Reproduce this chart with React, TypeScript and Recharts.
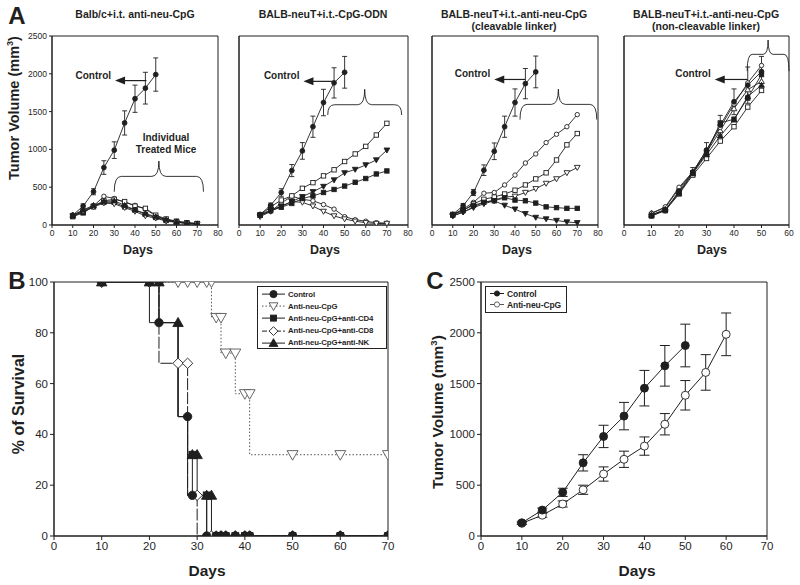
import React from "react";
import { ComposedChart, Line, XAxis, YAxis, ErrorBar, ReferenceArea } from "recharts";

const FONT = "'Liberation Sans', Arial, Helvetica, sans-serif";
const INK = "#1f1f1f";

// ---------- tick labels ----------
const dayTicks80 = [0, 10, 20, 30, 40, 50, 60, 70, 80];
const dayTicks60 = [0, 10, 20, 30, 40, 50, 60];
const dayTicks70 = [0, 10, 20, 30, 40, 50, 60, 70];
const volumeTicks = [0, 500, 1000, 1500, 2000, 2500];
const survivalTicks = [0, 20, 40, 60, 80, 100];

// ---------- panel A ----------
const daysA = [10, 15, 20, 25, 30, 35, 40, 45, 50, 55, 60, 65, 70];
const daysA4 = [10, 15, 20, 25, 30, 35, 40, 45, 50];

// A1: Balb/c + i.t. anti-neu-CpG
const a1Control = [130, 250, 440, 760, 990, 1350, 1670, 1810, 1990];
const a1ControlErr = [20, 30, 40, 90, 110, 160, 180, 210, 220];
const a1OpenCircle = [130, 190, 250, 380, 350, 300, 260, 210, 120, 70, 50, 30, 20];
const a1OpenSquare = [120, 170, 240, 320, 340, 310, 250, 220, 130, 80, 50, 30, 20];
const a1FilledSquare = [110, 160, 250, 300, 300, 240, 200, 140, 100, 60, 40, 20, 15];
const a1OpenTriDown = [120, 180, 240, 290, 280, 230, 180, 120, 90, 50, 35, 20, 10];
const a1FilledTri = [130, 200, 260, 310, 320, 260, 200, 150, 110, 70, 40, 25, 15];

// A2: BALB-neuT + i.t.-CpG-ODN
const a2Control = [140, 260, 430, 720, 980, 1300, 1620, 1880, 2020];
const a2ControlErr = [20, 30, 50, 80, 110, 140, 175, 200, 210];
const a2OpenSquare = [130, 240, 330, 385, 485, 560, 650, 730, 840, 940, 1040, 1190, 1345];
const a2FilledTriDown = [130, 205, 245, 310, 375, 440, 510, 595, 690, 735, 795, 860, 990];
const a2FilledSquare = [130, 190, 235, 285, 350, 385, 430, 470, 515, 565, 615, 675, 715];
const a2OpenCircle = [130, 180, 290, 380, 340, 320, 270, 210, 110, 70, 50, 30, 25];
const a2OpenTriDown = [110, 180, 250, 310, 300, 250, 180, 120, 80, 50, 30, 20, 20];

// A3: cleavable linker
const a3Control = [140, 255, 430, 725, 975, 1300, 1620, 1870, 2025];
const a3ControlErr = [20, 30, 40, 70, 110, 140, 180, 200, 210];
const a3OpenCircle = [140, 210, 300, 420, 430, 530, 660, 820, 940, 1090, 1200, 1300, 1460];
const a3OpenSquare = [140, 190, 280, 340, 370, 410, 460, 530, 610, 690, 860, 1060, 1210];
const a3OpenTriDown = [120, 170, 240, 300, 330, 370, 380, 430, 480, 550, 610, 690, 760];
const a3FilledSquare = [130, 200, 260, 300, 320, 360, 330, 320, 290, 240, 230, 220, 220];
const a3FilledTriDown = [120, 170, 230, 280, 320, 260, 210, 150, 100, 80, 60, 40, 30];

// A4: non-cleavable linker
const a4Control = [120, 190, 450, 700, 990, 1320, 1630, 1850, 2030];
const a4ControlErr = [20, 25, 35, 60, 100, 130, 170, 240, 200];
const a4OpenCircle = [150, 240, 500, 700, 990, 1290, 1600, 1880, 2110];
const a4FilledSquare = [120, 200, 430, 690, 950, 1350, 1400, 1680, 1990];
const a4OpenSquare = [140, 190, 410, 660, 880, 1110, 1300, 1560, 1780];
const a4OpenTri = [160, 230, 480, 700, 960, 1250, 1540, 1790, 1900];
const a4FilledTri = [130, 210, 420, 680, 930, 1180, 1390, 1700, 1850];

// ---------- panel B (Kaplan-Meier steps: [day, % survival, marker]) ----------
const survControl = [
  [10, 100, 1], [20, 100, 1], [20, 84, 0], [22, 84, 1], [26, 84, 0], [26, 47, 0], [28, 47, 1],
  [28, 16, 0], [29, 16, 1], [32, 16, 0], [32, 0, 1], [34, 0, 1], [35, 0, 1], [36, 0, 1],
  [38, 0, 1], [40, 0, 1], [41, 0, 1], [50, 0, 1], [60, 0, 1], [70, 0, 1],
];
const survAntiNeu = [
  [10, 100, 1], [26, 100, 1], [28, 100, 1], [30, 100, 1], [32, 100, 1], [33, 100, 1],
  [33, 86, 0], [34, 86, 1], [35, 86, 1], [35, 72, 0], [36, 72, 1], [38, 72, 1], [38, 56, 0],
  [40, 56, 1], [41, 56, 1], [41, 32, 0], [50, 32, 1], [60, 32, 1], [70, 32, 1],
];
const survCD4 = [
  [10, 100, 1], [20, 100, 1], [22, 100, 1], [22, 84, 0], [26, 84, 0], [26, 47, 0], [28, 47, 0],
  [28, 32, 0], [29, 32, 1], [29, 16, 0], [32, 16, 1], [32, 0, 0], [34, 0, 1], [35, 0, 1],
  [36, 0, 1], [38, 0, 1], [40, 0, 1], [41, 0, 1], [50, 0, 1], [60, 0, 1], [70, 0, 1],
];
const survCD8 = [
  [10, 100, 1], [20, 100, 1], [22, 100, 1], [22, 68, 0], [26, 68, 1], [28, 68, 1], [28, 16, 0],
  [30, 16, 1], [30, 0, 0], [33, 0, 1], [35, 0, 1], [36, 0, 1], [38, 0, 1], [40, 0, 1],
  [41, 0, 1], [50, 0, 1], [60, 0, 1], [70, 0, 1],
];
const survNK = [
  [10, 100, 1], [20, 100, 1], [22, 100, 1], [22, 84, 0], [26, 84, 1], [26, 47, 0], [28, 47, 0],
  [28, 32, 0], [29, 32, 1], [30, 32, 1], [30, 16, 0], [32, 16, 1], [33, 16, 1], [33, 0, 0],
  [34, 0, 1], [35, 0, 1], [36, 0, 1], [38, 0, 1], [40, 0, 1], [41, 0, 1], [50, 0, 1],
  [60, 0, 1], [70, 0, 1],
];

// ---------- panel C ----------
const daysC = [10, 15, 20, 25, 30, 35, 40, 45, 50, 55, 60];
const cControl = [130, 255, 430, 720, 980, 1180, 1455, 1675, 1875];
const cControlErr = [15, 20, 40, 80, 110, 135, 175, 200, 210];
const cAntiNeu = [125, 205, 315, 455, 610, 755, 885, 1100, 1385, 1610, 1985];
const cAntiNeuErr = [10, 20, 30, 45, 70, 80, 90, 105, 145, 175, 210];

type Shape = "circle" | "square" | "triUp" | "triDown" | "diamond";

function buildRows(days: number[], cols: Record<string, number[]>) {
  return days.map((day, i) => {
    const row: Record<string, number | null> = { day };
    for (const k of Object.keys(cols)) row[k] = cols[k][i] ?? null;
    return row;
  });
}

function toPoints(arr: number[][]) {
  return arr.map(([day, pct, m]) => ({ day, pct, m }));
}

function Marker({ cx, cy, shape, filled, r, stroke = INK }: { cx: number; cy: number; shape: Shape; filled: boolean; r: number; stroke?: string }) {
  const fill = filled ? stroke : "#fff";
  const sw = 0.9;
  if (shape === "circle") return <circle cx={cx} cy={cy} r={r} fill={fill} stroke={stroke} strokeWidth={sw} />;
  if (shape === "square")
    return <rect x={cx - r} y={cy - r} width={2 * r} height={2 * r} fill={fill} stroke={stroke} strokeWidth={sw} />;
  const t = r * 1.3;
  let pts = "";
  if (shape === "triUp") pts = `${cx},${cy - t} ${cx + t},${cy + t * 0.75} ${cx - t},${cy + t * 0.75}`;
  if (shape === "triDown") pts = `${cx},${cy + t} ${cx + t},${cy - t * 0.75} ${cx - t},${cy - t * 0.75}`;
  if (shape === "diamond") pts = `${cx},${cy - t} ${cx + t},${cy} ${cx},${cy + t} ${cx - t},${cy}`;
  return <polygon points={pts} fill={fill} stroke={stroke} strokeWidth={sw} />;
}

function dotRenderer(shape: Shape, filled: boolean, r: number, onlyMarked = false, stroke = INK) {
  return (p: any) => {
    const key = `dot-${p.index}`;
    if (p.cx == null || p.cy == null || p.value == null || (onlyMarked && !p.payload?.m)) return <g key={key} />;
    return (
      <g key={key}>
        <Marker cx={p.cx} cy={p.cy} shape={shape} filled={filled} r={r} stroke={stroke} />
      </g>
    );
  };
}

function Brace(props: any) {
  const { x, y, width, height, bar } = props;
  const top = y;
  const bottom = y + height;
  const by = y + height * bar;
  const mid = x + width / 2;
  const c = Math.min(7, width * 0.12);
  const d = [
    `M${x},${bottom}`,
    `Q${x},${by} ${x + c},${by}`,
    `L${mid - c},${by}`,
    `Q${mid},${by} ${mid},${top}`,
    `Q${mid},${by} ${mid + c},${by}`,
    `L${x + width - c},${by}`,
    `Q${x + width},${by} ${x + width},${bottom}`,
  ].join(" ");
  return <path d={d} fill="none" stroke={INK} strokeWidth={0.9} />;
}

function ControlArrow(props: any) {
  const { x, y, width, height } = props;
  const cy = y + height / 2;
  return (
    <g>
      <line x1={x + width} y1={cy} x2={x + 8} y2={cy} stroke={INK} strokeWidth={1.2} />
      <polygon points={`${x},${cy} ${x + 10},${cy - 4} ${x + 10},${cy + 4}`} fill={INK} />
      <text x={x - 4} y={cy - 2} textAnchor="end" fontFamily={FONT} fontWeight="bold" fontSize={10} fill={INK}>
        Control
      </text>
    </g>
  );
}

type SeriesCfg = { key: string; shape: Shape; filled: boolean; err?: string };

const seriesA1: SeriesCfg[] = [
  { key: "oc", shape: "circle", filled: false },
  { key: "os", shape: "square", filled: false },
  { key: "fs", shape: "square", filled: true },
  { key: "ot", shape: "triDown", filled: false },
  { key: "ft", shape: "triUp", filled: true },
  { key: "control", shape: "circle", filled: true, err: "controlErr" },
];

const dataA1 = buildRows(daysA, {
  control: a1Control, controlErr: a1ControlErr, oc: a1OpenCircle, os: a1OpenSquare,
  fs: a1FilledSquare, ot: a1OpenTriDown, ft: a1FilledTri,
});
const dataA2 = buildRows(daysA, {
  control: a2Control, controlErr: a2ControlErr, os: a2OpenSquare, ft: a2FilledTriDown,
  fs: a2FilledSquare, oc: a2OpenCircle, ot: a2OpenTriDown,
});
const seriesA2: SeriesCfg[] = [
  { key: "oc", shape: "circle", filled: false },
  { key: "ot", shape: "triDown", filled: false },
  { key: "os", shape: "square", filled: false },
  { key: "ft", shape: "triDown", filled: true },
  { key: "fs", shape: "square", filled: true },
  { key: "control", shape: "circle", filled: true, err: "controlErr" },
];
const dataA3 = buildRows(daysA, {
  control: a3Control, controlErr: a3ControlErr, oc: a3OpenCircle, os: a3OpenSquare,
  ot: a3OpenTriDown, fs: a3FilledSquare, ft: a3FilledTriDown,
});
const dataA4 = buildRows(daysA4, {
  control: a4Control, controlErr: a4ControlErr, oc: a4OpenCircle, fs: a4FilledSquare,
  os: a4OpenSquare, ot: a4OpenTri, ft: a4FilledTri,
});
const seriesA4: SeriesCfg[] = [
  { key: "os", shape: "square", filled: false },
  { key: "ot", shape: "triUp", filled: false },
  { key: "oc", shape: "circle", filled: false },
  { key: "ft", shape: "triUp", filled: true },
  { key: "fs", shape: "square", filled: true },
  { key: "control", shape: "circle", filled: true, err: "controlErr" },
];

function TumorPanel({ left, width, right, yWidth, data, series, xMax, xTicks, showY, brace, arrow }: any) {
  const tickStyle = { fontSize: 8.5, fill: INK, fontFamily: FONT };
  return (
    <div style={{ position: "absolute", left, top: 0 }}>
      <ComposedChart width={width} height={250} data={data} margin={{ top: 36, right, bottom: 5, left: 0 }}>
        <XAxis dataKey="day" type="number" domain={[0, xMax]} ticks={xTicks} interval={0} tickSize={3}
          height={20} stroke={INK} tick={tickStyle} allowDataOverflow />
        <YAxis type="number" domain={[0, 2500]} ticks={volumeTicks} interval={0} tickSize={3} width={yWidth}
          stroke={INK} tick={showY ? tickStyle : false} allowDataOverflow />
        <ReferenceArea x1={0} x2={xMax} y1={0} y2={2500} fill="none" stroke={INK} strokeWidth={1} ifOverflow="visible" />
        <ReferenceArea x1={brace.x1} x2={brace.x2} y1={brace.low} y2={brace.high} ifOverflow="visible"
          shape={(p: any) => <Brace {...p} bar={brace.bar} />} />
        <ReferenceArea x1={arrow.tip} x2={arrow.tail} y1={arrow.y - 40} y2={arrow.y + 40} ifOverflow="visible"
          shape={(p: any) => <ControlArrow {...p} />} />
        {series.map((s: SeriesCfg) => (
          <Line key={s.key} dataKey={s.key} type="linear" stroke={INK} strokeWidth={0.9} isAnimationActive={false}
            activeDot={false} dot={dotRenderer(s.shape, s.filled, s.key === "control" ? 2.4 : 2.2)}>
            {s.err && <ErrorBar dataKey={s.err} width={2.5} stroke={INK} strokeWidth={0.9} direction="y" />}
          </Line>
        ))}
      </ComposedChart>
    </div>
  );
}

function Txt({ x, y, size, bold = true, rotate = false, children, lh = 1.15 }: any) {
  return (
    <div
      style={{
        position: "absolute", left: x, top: y, fontSize: size, fontWeight: bold ? "bold" : "normal",
        lineHeight: lh, whiteSpace: "nowrap", textAlign: "center",
        transform: `translate(-50%, -50%)${rotate ? " rotate(-90deg)" : ""}`,
      }}
    >
      {children}
    </div>
  );
}

const survSeries = [
  { name: "Anti-neu-CpG", data: toPoints(survAntiNeu), shape: "triDown" as Shape, filled: false, dash: "1.5 2", color: "#555", r: 4.2 },
  { name: "Anti-neu-CpG+anti-CD8", data: toPoints(survCD8), shape: "diamond" as Shape, filled: false, dash: "12 2", color: INK, r: 4 },
  { name: "Anti-neu-CpG+anti-CD4", data: toPoints(survCD4), shape: "square" as Shape, filled: true, dash: undefined, color: INK, r: 3.4 },
  { name: "Anti-neu-CpG+anti-NK", data: toPoints(survNK), shape: "triUp" as Shape, filled: true, dash: undefined, color: INK, r: 4 },
  { name: "Control", data: toPoints(survControl), shape: "circle" as Shape, filled: true, dash: undefined, color: INK, r: 4.2 },
];

const legendB = [
  { label: "Control", shape: "circle" as Shape, filled: true, dash: undefined, color: INK, r: 3.6 },
  { label: "Anti-neu-CpG", shape: "triDown" as Shape, filled: false, dash: "1.5 2", color: "#555", r: 3.4 },
  { label: "Anti-neu-CpG+anti-CD4", shape: "square" as Shape, filled: true, dash: undefined, color: INK, r: 3 },
  { label: "Anti-neu-CpG+anti-CD8", shape: "diamond" as Shape, filled: false, dash: "5 2", color: INK, r: 3.4 },
  { label: "Anti-neu-CpG+anti-NK", shape: "triUp" as Shape, filled: true, dash: undefined, color: INK, r: 3.4 },
];

function LegendRow({ item, w, h, fs }: any) {
  return (
    <div style={{ display: "flex", alignItems: "center", height: h, whiteSpace: "nowrap" }}>
      <svg width={w} height={h} style={{ display: "block", flex: "none" }}>
        <line x1={1} y1={h / 2} x2={w - 1} y2={h / 2} stroke={item.color} strokeWidth={1} strokeDasharray={item.dash} />
        <Marker cx={w / 2} cy={h / 2} shape={item.shape} filled={item.filled} r={item.r} stroke={item.color} />
      </svg>
      <span style={{ fontSize: fs, fontWeight: "bold", marginLeft: 2, whiteSpace: "nowrap", letterSpacing: -0.1 }}>{item.label}</span>
    </div>
  );
}

const dataC = buildRows(daysC, {
  control: cControl, controlErr: cControlErr, anti: cAntiNeu, antiErr: cAntiNeuErr,
});

const legendC = [
  { label: "Control", shape: "circle" as Shape, filled: true, dash: undefined, color: INK, r: 2.6 },
  { label: "Anti-neu-CpG", shape: "circle" as Shape, filled: false, dash: undefined, color: "#555", r: 2.6 },
];

export default function App() {
  const tickB = { fontSize: 11.5, fill: INK, fontFamily: FONT };
  return (
    <div style={{ position: "absolute", left: 0, top: 0, width: 800, height: 585, background: "#fff", fontFamily: FONT, color: INK, overflow: "hidden" }}>
      {/* Panel A */}
      <TumorPanel left={0} width={230} right={12} yWidth={52} data={dataA1} series={seriesA1} xMax={80} xTicks={dayTicks80} showY
        brace={{ x1: 30, x2: 73, low: 440, high: 846, bar: 0.5 }} arrow={{ tip: 30.4, tail: 45.5, y: 1910 }} />
      <TumorPanel left={226} width={194} right={12} yWidth={13} data={dataA2} series={seriesA2} xMax={80} xTicks={dayTicks80} showY={false}
        brace={{ x1: 42, x2: 77, low: 1455, high: 1795, bar: 0.6 }} arrow={{ tip: 30.5, tail: 44.8, y: 1900 }} />
      <TumorPanel left={419} width={191} right={12} yWidth={13} data={dataA3} series={seriesA2} xMax={80} xTicks={dayTicks80} showY={false}
        brace={{ x1: 42.4, x2: 79.4, low: 1394, high: 1797, bar: 0.5 }} arrow={{ tip: 30, tail: 45, y: 1925 }} />
      <TumorPanel left={611} width={189} right={11} yWidth={13} data={dataA4} series={seriesA4} xMax={60} xTicks={dayTicks60} showY={false}
        brace={{ x1: 44.8, x2: 60, low: 2035, high: 2447, bar: 0.46 }} arrow={{ tip: 33, tail: 45, y: 1925 }} />

      <Txt x={17} y={16} size={24}>A</Txt>
      <Txt x={14} y={108} size={14.5} rotate>Tumor Volume (mm<sup style={{ fontSize: "0.62em" }}>3</sup>)</Txt>
      <Txt x={135} y={14} size={10.5}>Balb/c+i.t. anti-neu-CpG</Txt>
      <Txt x={323} y={14} size={10.5}>BALB-neuT+i.t.-CpG-ODN</Txt>
      <Txt x={514} y={20} size={10.5}>BALB-neuT+i.t.-anti-neu-CpG<br />(cleavable linker)</Txt>
      <Txt x={706} y={20} size={10.5}>BALB-neuT+i.t.-anti-neu-CpG<br />(non-cleavable linker)</Txt>
      <Txt x={166} y={144} size={10} lh={1.2}>Individual<br />Treated Mice</Txt>
      <Txt x={138} y={250} size={12.5}>Days</Txt>
      <Txt x={325} y={250} size={12.5}>Days</Txt>
      <Txt x={517} y={250} size={12.5}>Days</Txt>
      <Txt x={712} y={250} size={12.5}>Days</Txt>

      {/* Panel B */}
      <div style={{ position: "absolute", left: 0, top: 250 }}>
        <ComposedChart width={400} height={335} margin={{ top: 32, right: 12, bottom: 27, left: 0 }}>
          <XAxis dataKey="day" type="number" domain={[0, 70]} ticks={dayTicks70} interval={0} tickSize={4}
            height={22} stroke={INK} tick={tickB} allowDataOverflow />
          <YAxis type="number" domain={[0, 100]} ticks={survivalTicks} interval={0} tickSize={4} width={54}
            stroke={INK} tick={tickB} allowDataOverflow />
          <ReferenceArea x1={0} x2={70} y1={0} y2={100} fill="none" stroke={INK} strokeWidth={1} ifOverflow="visible" />
          {survSeries.map((s) => (
            <Line key={s.name} name={s.name} data={s.data} dataKey="pct" type="linear" stroke={s.color}
              strokeWidth={1} strokeDasharray={s.dash} isAnimationActive={false} activeDot={false}
              dot={dotRenderer(s.shape, s.filled, s.r, true, s.color)} />
          ))}
        </ComposedChart>
      </div>
      <div style={{ position: "absolute", left: 257, top: 286, width: 130, height: 63, border: "1.5px solid #222", boxSizing: "border-box", padding: "1px 0 0 3px", background: "#fff", overflow: "hidden" }}>
        {legendB.map((item) => (
          <LegendRow key={item.label} item={item} w={25} h={12.2} fs={7.8} />
        ))}
      </div>
      <Txt x={17} y={281} size={24}>B</Txt>
      <Txt x={19} y={404} size={16} rotate>% of Survival</Txt>
      <Txt x={207} y={571} size={15.5}>Days</Txt>

      {/* Panel C */}
      <div style={{ position: "absolute", left: 400, top: 250 }}>
        <ComposedChart width={400} height={335} data={dataC} margin={{ top: 32, right: 33, bottom: 27, left: 0 }}>
          <XAxis dataKey="day" type="number" domain={[0, 70]} ticks={dayTicks70} interval={0} tickSize={4}
            height={22} stroke={INK} tick={tickB} allowDataOverflow />
          <YAxis type="number" domain={[0, 2500]} ticks={volumeTicks} interval={0} tickSize={4} width={81}
            stroke={INK} tick={tickB} allowDataOverflow />
          <ReferenceArea x1={0} x2={70} y1={0} y2={2500} fill="none" stroke={INK} strokeWidth={1} ifOverflow="visible" />
          <Line dataKey="anti" name="Anti-neu-CpG" type="linear" stroke={INK} strokeWidth={1} isAnimationActive={false}
            activeDot={false} dot={dotRenderer("circle", false, 4)}>
            <ErrorBar dataKey="antiErr" width={5} stroke={INK} strokeWidth={1} direction="y" />
          </Line>
          <Line dataKey="control" name="Control" type="linear" stroke={INK} strokeWidth={1} isAnimationActive={false}
            activeDot={false} dot={dotRenderer("circle", true, 4)}>
            <ErrorBar dataKey="controlErr" width={5} stroke={INK} strokeWidth={1} direction="y" />
          </Line>
        </ComposedChart>
      </div>
      <div style={{ position: "absolute", left: 485, top: 286, width: 82, height: 27, border: "1.5px solid #222", boxSizing: "border-box", padding: "1px 0 0 3px", background: "#fff" }}>
        {legendC.map((item) => (
          <LegendRow key={item.label} item={item} w={16} h={11} fs={8.5} />
        ))}
      </div>
      <Txt x={435} y={281} size={24}>C</Txt>
      <Txt x={437} y={412} size={15.5} rotate>Tumor Volume (mm<sup style={{ fontSize: "0.62em" }}>3</sup>)</Txt>
      <Txt x={637} y={571} size={15.5}>Days</Txt>
    </div>
  );
}
